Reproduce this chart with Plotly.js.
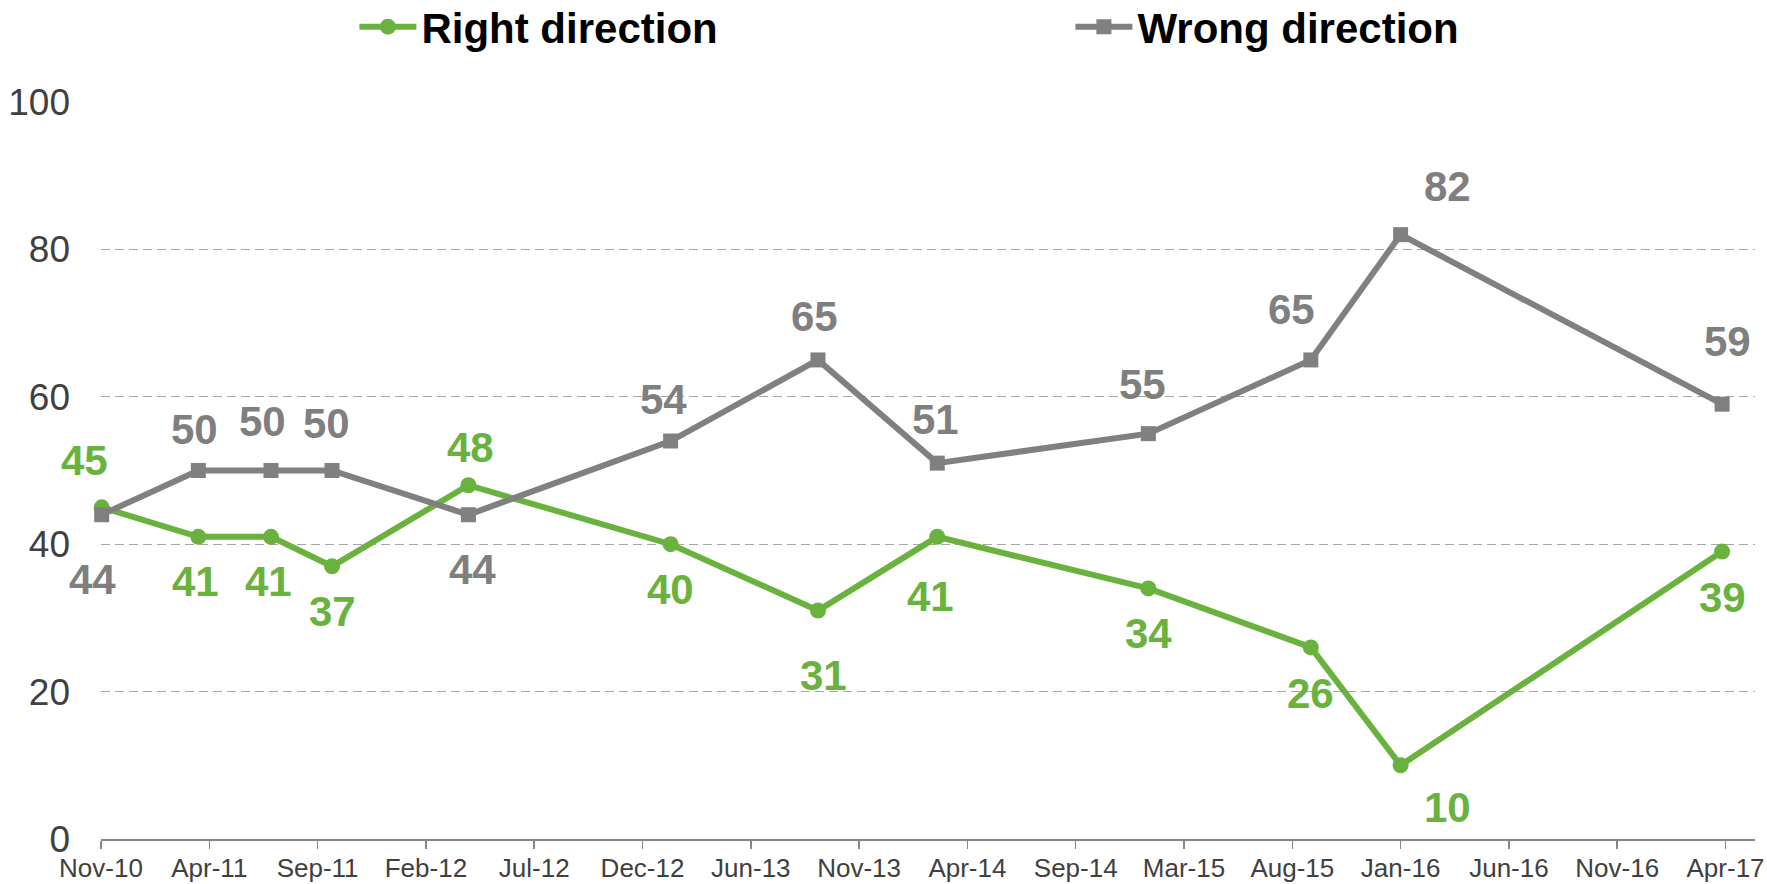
<!DOCTYPE html>
<html>
<head>
<meta charset="utf-8">
<script src="https://cdn.plot.ly/plotly-3.0.1.min.js"></script>
<style>
  html, body { margin: 0; padding: 0; background: #ffffff; }
  #chart { width: 1767px; height: 884px; }
</style>
</head>
<body>
<div id="chart"></div>
<script>
// ---- Data ----
const surveyDates = ['2010-11-03','2011-03-24','2011-07-08','2011-10-05','2012-04-21','2013-02-10',
                     '2013-09-13','2014-03-06','2015-01-08','2015-09-02','2016-01-11','2017-04-24'];
const rightDirection = [45, 41, 41, 37, 48, 40, 31, 41, 34, 26, 10, 39];
const wrongDirection = [44, 50, 50, 50, 44, 54, 65, 51, 55, 65, 82, 59];
const seriesNames = ['Right direction', 'Wrong direction'];

// ---- Label placement (pixel offsets from each point) ----
const rightLabelDX = [-17, -3, -2, 0, 2, 0, 6, -7, 0, 0, 47, 0];
const rightLabelDY = [47, -45, -45, -45, 38, -45, -65, -60, -45, -46, -42, -46];
const wrongLabelDX = [-9, -4, -8, -6, 4, -7, -3, -2, -6, -19, 47, 5];
const wrongLabelDY = [-65, 41, 49, 47, -55, 42, 43, 44, 49, 50, 48, 63];

// ---- Styles ----
const GREEN = '#6AB23E';
const GREY = '#808080';
const FONT = 'Liberation Sans, Arial, sans-serif';
const DAY = 86400000;

const traces = [
  {
    type: 'scatter', mode: 'lines+markers', name: seriesNames[0],
    x: surveyDates, y: rightDirection,
    line: { color: GREEN, width: 6 },
    marker: { symbol: 'circle', size: 16, color: GREEN },
    cliponaxis: false, legend: 'legend'
  },
  {
    type: 'scatter', mode: 'lines+markers', name: seriesNames[1],
    x: surveyDates, y: wrongDirection,
    line: { color: GREY, width: 6 },
    marker: { symbol: 'square', size: 15, color: GREY },
    cliponaxis: false, legend: 'legend2'
  }
];

const annotations = [];
function addLabels(values, dx, dy, color) {
  values.forEach((v, i) => {
    annotations.push({
      x: surveyDates[i], y: v, xref: 'x', yref: 'y',
      text: String(v), showarrow: false,
      xanchor: 'center', yanchor: 'middle',
      xshift: dx[i], yshift: dy[i],
      font: { family: FONT, size: 42, color: color, weight: 'bold' }
    });
  });
}
addLabels(wrongDirection, wrongLabelDX, wrongLabelDY, '#7F7F7F');
addLabels(rightDirection, rightLabelDX, rightLabelDY, GREEN);

const legendCommon = {
  orientation: 'h', yanchor: 'middle', xanchor: 'left',
  xref: 'paper', yref: 'paper', y: 1.102,
  font: { family: FONT, size: 42, color: '#000000', weight: 'bold' },
  itemwidth: 57, bgcolor: 'rgba(0,0,0,0)'
};

const layout = {
  width: 1767, height: 884,
  margin: { l: 101, r: 12, t: 102, b: 45, autoexpand: false },
  paper_bgcolor: '#ffffff', plot_bgcolor: '#ffffff',
  showlegend: true,
  legend: Object.assign({}, legendCommon, { x: 0.1532 }),
  legend2: Object.assign({}, legendCommon, { x: 0.5861 }),
  xaxis: {
    type: 'date',
    range: ['2010-11-02', '2017-06-11'],
    tick0: '2010-11-02', dtick: 158 * DAY, tickformat: '%b-%y',
    showgrid: false, zeroline: false,
    showline: true, linecolor: '#868686', linewidth: 2,
    ticks: 'outside', ticklen: 8, tickwidth: 1.5, tickcolor: '#868686',
    ticklabelstandoff: -3,
    tickfont: { family: FONT, size: 26, color: '#404040' },
    fixedrange: true
  },
  yaxis: {
    range: [0, 100], tick0: 0, dtick: 20,
    showgrid: true, gridcolor: '#A6A6A6', gridwidth: 1.3, griddash: '9px,5px',
    zeroline: false, showline: false, ticks: '',
    ticklabelstandoff: 30,
    tickfont: { family: FONT, size: 37, color: '#404040' },
    fixedrange: true
  },
  annotations: annotations
};

Plotly.newPlot('chart', traces, layout, { displayModeBar: false, staticPlot: true });
</script>
</body>
</html>
